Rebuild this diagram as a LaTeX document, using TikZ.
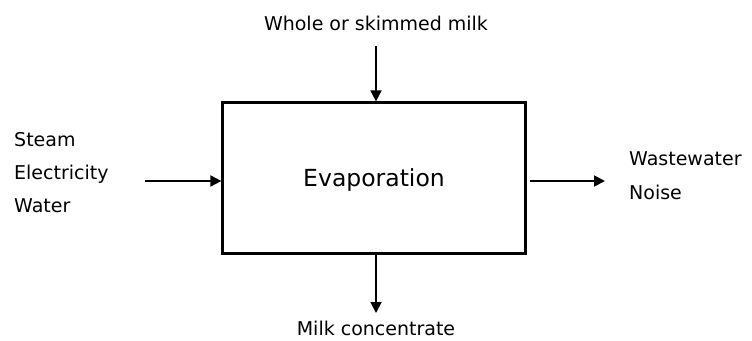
\documentclass[tikz,border=0pt]{standalone}
\usepackage{fontspec}
\setmainfont{DejaVu Sans}
\usetikzlibrary{arrows.meta,calc}
\begin{document}
\begin{tikzpicture}[x=1pt,y=-1pt,
  lbl/.style={inner sep=0pt,font=\fontsize{19}{23}\selectfont},
  proc/.style={draw,line width=2.2pt,minimum width=303pt,minimum height=151pt,inner sep=0pt,font=\fontsize{23.5}{28}\selectfont},
  flow/.style={line width=1.8pt,-{Triangle[length=11pt,width=11pt]}}]
\useasboundingbox (0,0) rectangle (752,340);
\node[proc] (box) at (374,178) {};
\node[inner sep=0pt,anchor=base,font=\fontsize{23.5}{28}\selectfont] (evap) at (374,186) {Evaporation};
\node[lbl,anchor=base] (top) at (376,30) {Whole or skimmed milk};
\node[lbl,anchor=base] (bot) at (376,335) {Milk concentrate};
\node[lbl,anchor=base west] (steam) at (14,146.5) {Steam};
\node[lbl,anchor=base west] (elec) at (14,179.5) {Electricity};
\node[lbl,anchor=base west] (water) at (14,212.5) {Water};
\node[lbl,anchor=base west] (waste) at (629,165) {Wastewater};
\node[lbl,anchor=base west] (noise) at (629,199.5) {Noise};
\coordinate (tin) at (376,46);
\coordinate (lin) at (145,181);
\coordinate (rout) at (605,181);
\coordinate (bout) at (376,313);
\draw[flow] (tin) -- (tin |- box.north);
\draw[flow] (lin) -- (lin -| box.west);
\draw[flow] (rout -| box.east) ++(3,0) -- (rout);
\draw[flow] (bout |- box.south) -- (bout);
\end{tikzpicture}
\end{document}
